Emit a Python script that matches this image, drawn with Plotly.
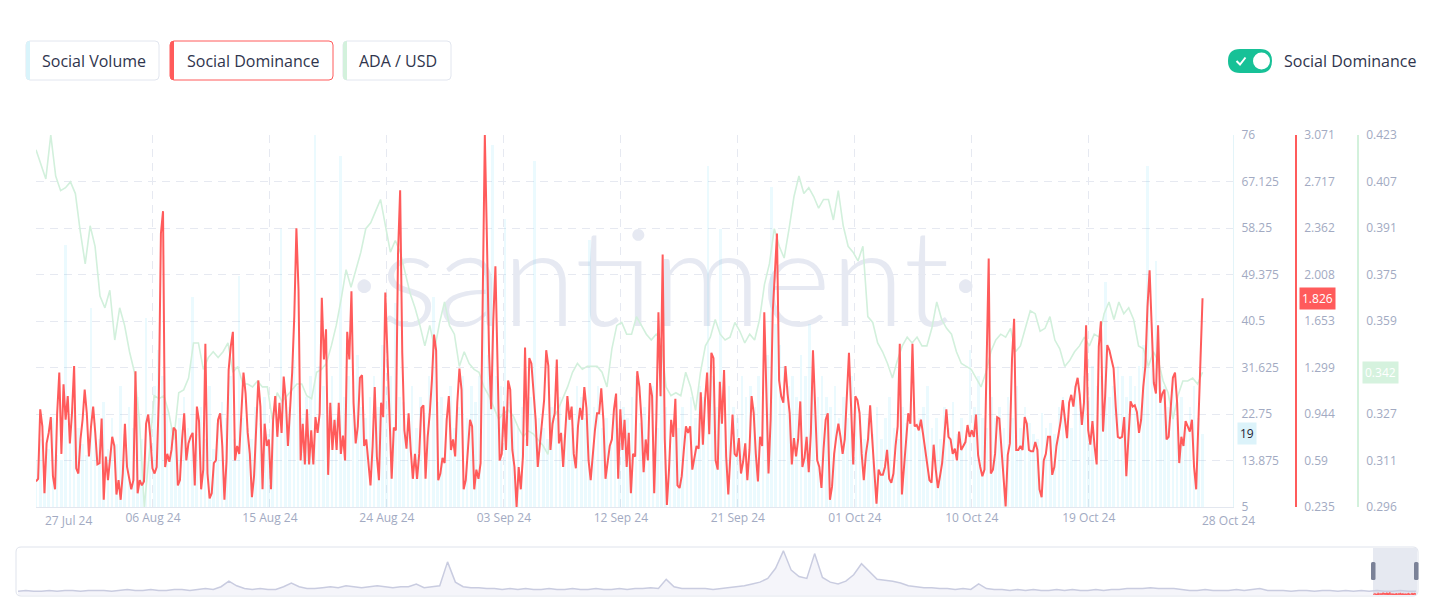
import numpy as np
import pandas as pd
import plotly.graph_objects as go

# the page body has an 8px margin, so the figure is drawn 8px in from the corner
OFF = 8
W, H = 1432, 607
FW, FH = W - OFF, H - OFF

# ---------------- data ----------------
# Social Dominance (%), ~4h points, 27 Jul 24 -> 28 Oct 24
dom_part1 = [0.43, 0.45, 0.98, 0.85, 0.34, 0.72, 0.80, 0.92, 0.47, 0.37,
             0.95, 1.26, 0.64, 1.17, 0.90, 1.08, 0.72, 0.95, 1.31, 0.53,
             0.49, 0.75, 0.90, 1.13, 0.95, 0.62, 0.85, 1.00, 0.80, 0.56, 0.57, 0.91,
             0.29, 0.62, 0.44, 0.64, 0.77, 0.70, 0.33, 0.44, 0.29, 0.49,
             0.87, 0.54, 0.44, 0.37, 0.44, 1.27, 0.34, 0.44, 0.40, 0.43,
             0.87, 0.94, 0.77, 0.53, 0.49, 0.54, 1.05, 2.32, 2.49, 0.54,
             0.64, 0.58, 0.67, 0.84, 0.82, 0.40, 0.44, 0.75, 0.95,
             0.59, 0.72, 0.77, 0.80, 0.40, 1.00, 0.89, 0.37, 0.52,
             1.48, 0.49, 0.30, 0.34, 0.57, 0.59, 0.90, 0.95, 0.70, 0.29,
             0.59, 1.28, 1.46, 1.57, 0.59, 0.70, 0.64, 0.95, 1.26, 1.10,
             0.80, 0.64, 0.31, 0.47, 0.87, 1.20, 1.00, 0.37, 0.87, 0.70,
             0.75, 0.37, 0.90, 1.08, 0.77, 1.03, 0.80, 1.23, 1.05, 0.70,
             0.98, 1.26, 1.69, 2.36, 1.89, 0.59, 0.87, 0.56, 0.98, 0.56,
             0.82, 0.56, 0.92, 0.80]
dom_part2 = [0.95, 1.83, 1.36, 1.59, 0.48, 1.03, 0.67, 0.90, 0.67, 1.03,
             0.64, 0.78, 0.59, 1.57, 1.36, 1.88, 1.03, 0.72, 0.85, 1.22, 1.24,
             0.70, 0.75, 0.54, 0.40, 0.70, 1.15, 0.62, 0.44, 1.03, 0.92, 1.87,
             1.41, 1.03, 0.45, 0.84, 0.82, 2.17, 2.65, 1.41, 0.82, 0.68,
             0.95, 0.67, 0.45, 0.64, 0.45, 0.64, 0.99, 1.01, 0.45, 0.77,
             0.95, 1.20, 1.55, 1.43, 0.44, 0.49, 0.61, 0.57, 0.90, 1.08, 0.67,
             0.75, 0.62, 1.03, 1.29, 1.13, 0.37, 0.44, 0.64, 0.90, 0.85,
             0.37, 0.52, 0.45, 0.57, 1.66, 3.071, 2.27, 1.41, 0.98, 1.66,
             2.07, 1.20, 0.59, 0.64, 1.00, 0.67, 1.20, 1.13, 0.67, 0.54,
             0.235, 0.54, 0.37, 0.62, 1.45, 0.70, 1.37, 1.33, 1.08, 0.90,
             0.54, 0.72, 0.90, 1.05, 1.43, 1.31, 0.67, 0.87,
             0.95, 1.36, 0.72, 0.80, 0.54, 0.81, 1.08, 0.90, 1.00,
             0.64, 0.53, 0.85, 0.99, 0.90, 1.15, 0.99, 0.59, 0.44, 0.64,
             0.82, 0.95]
dom_part3 = [0.95, 1.14, 0.90, 0.45, 0.59, 0.70, 0.75, 0.98, 1.10, 0.45, 0.98,
             0.67, 0.90, 0.54, 0.80, 0.34, 0.64, 0.62, 1.27, 1.15, 0.90, 0.50,
             0.75, 0.59, 1.18, 1.08, 0.34, 0.90, 1.72, 1.08, 2.16, 0.75,
             0.25, 0.52, 0.90, 0.77, 1.06, 0.40, 0.38, 0.47, 0.67, 0.85,
             0.80, 0.85, 0.52, 0.60, 0.70, 0.68, 1.11, 0.71, 1.05, 1.26, 0.79,
             1.41, 1.37, 0.59, 0.52, 1.19, 0.87, 1.28, 0.62, 0.33, 0.67,
             0.94, 0.64, 0.62, 0.76, 0.49, 0.58, 0.72, 0.44, 0.67, 1.08, 0.95,
             0.64, 0.43, 0.77, 0.70, 1.72, 1.03, 0.49, 0.90, 1.72, 2.02,
             2.32, 1.20, 1.08, 1.03, 1.31, 1.10, 0.95, 0.56, 0.76, 0.62,
             0.75, 1.04, 0.54, 0.61, 0.77, 0.50, 0.80, 1.43, 1.05, 0.59,
             0.54, 0.38, 0.68, 0.90, 0.95, 0.29, 0.39, 0.64, 0.77,
             0.87, 0.77, 0.64, 0.75, 1.05, 1.41, 1.00, 0.56, 1.08,
             1.05, 0.95, 0.64, 0.44, 0.64, 0.75, 1.01, 0.75, 0.52,
             0.26]
dom_part4 = [0.52, 0.48, 0.48, 0.54, 0.67, 0.45, 0.42, 0.49, 0.70, 0.85,
             1.48, 0.33, 0.54, 0.75, 0.95, 0.87, 1.48, 0.85, 0.86, 0.82,
             0.90, 0.79, 0.67, 0.57, 0.44, 0.42, 0.71, 0.52, 0.38, 0.47,
             0.57, 0.76, 0.98, 0.77, 0.75, 0.64, 0.68, 0.59, 0.81, 0.67,
             0.70, 0.73, 0.86, 0.77, 0.82, 0.77, 0.94, 0.63, 0.54, 0.47,
             0.52, 1.46, 2.13, 0.49, 0.52, 0.64, 0.92, 0.91, 0.68, 0.42,
             0.24, 0.63, 0.72, 1.36, 1.67, 0.67, 0.67, 0.70, 0.67, 0.92,
             0.87, 0.67, 0.66, 0.66, 0.73, 0.67, 0.37, 0.31, 0.59, 0.64,
             0.77, 0.77, 0.48, 0.54, 0.70, 0.79, 0.89, 1.05, 0.89, 0.76,
             1.03, 1.09, 1.00, 1.15, 1.22, 1.09, 0.86, 1.03, 1.62, 0.82,
             0.71, 0.89, 0.70, 0.56, 1.46, 1.65, 0.81, 1.08, 1.47, 1.43,
             1.36, 1.29, 1.00, 0.77, 0.76, 0.77, 0.92, 0.47, 0.76, 1.04,
             1.00, 1.01, 0.96, 0.80, 0.90, 1.15, 1.31, 1.76, 2.04, 1.61,
             1.18, 1.10, 1.62, 1.03, 1.10, 1.13, 0.75, 0.77, 1.00, 1.22,
             1.26, 1.03, 0.57, 0.77, 0.70, 0.89, 0.85, 0.81, 0.90, 0.54,
             0.37, 0.85, 1.41, 1.826]
social_dominance = dom_part1 + dom_part2 + dom_part3 + dom_part4

# ADA / USD price
price_part1 = [0.418, 0.413, 0.408, 0.423, 0.409, 0.404, 0.405, 0.407, 0.403, 0.390,
               0.379, 0.392, 0.385, 0.368, 0.364, 0.370, 0.353, 0.364, 0.358, 0.349,
               0.342, 0.326, 0.296]
price_part2 = [0.314, 0.334, 0.333, 0.334, 0.328, 0.319, 0.335, 0.336, 0.340, 0.352,
               0.352, 0.343, 0.347, 0.349, 0.347, 0.349, 0.352, 0.342, 0.344, 0.338,
               0.338, 0.337, 0.339, 0.337, 0.337, 0.326, 0.335, 0.332, 0.334, 0.336,
               0.338, 0.338, 0.334, 0.333]
price_part3 = [0.342, 0.343, 0.345, 0.351, 0.358, 0.367, 0.377, 0.371, 0.377, 0.383, 0.391, 0.393,
               0.397, 0.401, 0.392, 0.383, 0.387, 0.383, 0.376, 0.369, 0.364, 0.358,
               0.351, 0.358, 0.350, 0.359, 0.366, 0.358, 0.355, 0.344, 0.349, 0.345,
               0.343, 0.342, 0.337, 0.334, 0.330, 0.326, 0.328, 0.329, 0.327, 0.323,
               0.320, 0.322, 0.321, 0.319, 0.317, 0.314, 0.326, 0.329, 0.333, 0.337,
               0.342, 0.345, 0.343, 0.344, 0.344, 0.344]
price_part4 = [0.342, 0.337, 0.350, 0.358, 0.359, 0.355, 0.355, 0.361, 0.358, 0.355,
               0.353, 0.355, 0.353, 0.337, 0.334, 0.335, 0.334, 0.342, 0.337, 0.329,
               0.342, 0.351, 0.354, 0.360, 0.355, 0.353, 0.354, 0.359, 0.356, 0.352,
               0.355, 0.353, 0.360, 0.372, 0.379, 0.391, 0.385, 0.381, 0.391, 0.402,
               0.409, 0.403, 0.405, 0.402, 0.398, 0.401, 0.401, 0.394, 0.404, 0.392,
               0.385, 0.383, 0.380, 0.385, 0.361, 0.359, 0.352, 0.349, 0.345]
price_part5 = [0.340, 0.346, 0.351, 0.354, 0.352, 0.354, 0.351, 0.351, 0.357, 0.366,
               0.360, 0.357, 0.355, 0.349, 0.345, 0.344, 0.343, 0.340, 0.337, 0.342,
               0.349, 0.353, 0.355, 0.354, 0.357, 0.349, 0.351, 0.357, 0.363, 0.362,
               0.356, 0.357, 0.361, 0.353, 0.350, 0.344, 0.346, 0.349, 0.351, 0.354,
               0.351, 0.355, 0.354, 0.362, 0.366, 0.360, 0.366, 0.362, 0.364, 0.360,
               0.351, 0.350, 0.344, 0.349, 0.346, 0.339, 0.335, 0.326, 0.334, 0.339,
               0.339, 0.340, 0.338, 0.342]
ada_usd = price_part1 + price_part2 + price_part3 + price_part4 + price_part5

# Social Volume, ~8h bars
social_volume = [14, 18, 12, 16, 22, 15, 14, 55, 20, 24, 20, 17, 15, 43, 21,
                 18, 25, 16, 22, 17, 28, 19, 24, 20, 26, 18, 41, 22, 28, 35,
                 30, 24, 20, 18, 22, 26, 20, 45, 19, 24, 18, 28, 16, 21, 25,
                 22, 30, 18, 49, 22, 20, 18, 24, 21, 26, 19, 23, 21, 58, 26,
                 24, 33, 28, 22, 26, 30, 76, 32, 28, 24, 30, 22, 72, 26, 30,
                 28, 34, 24, 22, 26, 30, 24, 36, 28, 30, 44, 26, 25, 22, 28,
                 20, 26, 23, 30, 45, 25, 26, 22, 28, 20, 24, 30, 22, 28, 25,
                 30, 52, 34, 74, 30, 28, 60, 25, 22, 20, 24, 18, 26, 71, 22,
                 20, 18, 24, 22, 26, 19, 24, 20, 28, 26, 22, 56, 24, 28, 20,
                 22, 18, 26, 20, 24, 22, 26, 30, 21, 24, 22, 28, 20, 36, 24,
                 18, 22, 20, 24, 20, 26, 22, 28, 26, 70, 30, 24, 58, 26, 28,
                 24, 22, 30, 26, 28, 24, 30, 26, 34, 66, 40, 36, 32, 28, 30,
                 26, 34, 30, 40, 28, 26, 30, 26, 24, 28, 22, 26, 22, 30, 24,
                 20, 18, 22, 19, 24, 18, 22, 26, 20, 18, 24, 21, 26, 20, 22,
                 24, 28, 20, 22, 18, 24, 20, 25, 19, 22, 18, 35, 24, 30, 22,
                 20, 26, 22, 24, 20, 26, 22, 28, 20, 24, 21, 19, 18, 23, 20,
                 21, 19, 24, 26, 22, 20, 28, 24, 30, 26, 32, 28, 30, 48, 26,
                 28, 32, 30, 26, 30, 28, 32, 36, 70, 40, 52, 30, 28, 24, 30,
                 22, 26, 20, 24, 28, 22, 19]

# Navigator (long history of social volume, relative units)
nav_history = [4, 5, 4, 4, 5, 4, 5, 5, 4, 5, 5, 5, 4, 5, 6, 5, 5, 6, 5, 5,
               6, 6, 5, 6, 7, 6, 9, 15, 10, 7, 6, 7, 6, 6, 9, 13, 9, 7, 7, 8,
               9, 8, 10, 9, 8, 9, 10, 9, 8, 9, 9, 12, 8, 9, 10, 36, 14, 9, 8, 8,
               7, 7, 6, 7, 6, 7, 6, 6, 7, 6, 6, 7, 6, 6, 7, 6, 6, 7, 6, 7,
               7, 8, 7, 17, 9, 7, 7, 7, 7, 6, 7, 8, 9, 10, 12, 14, 18, 29, 48, 27,
               20, 18, 45, 19, 14, 12, 15, 22, 34, 26, 17, 16, 15, 13, 10, 9, 8, 8, 7, 7,
               6, 7, 6, 12, 7, 6, 6, 5, 6, 5, 6, 5, 5, 6, 5, 6, 5, 5, 6, 5,
               6, 6, 7, 7, 7, 8, 7, 7, 7, 6, 5, 5, 6, 5, 5, 5, 6, 5, 6, 7,
               5, 5, 5, 4, 5, 5, 4, 5, 5, 4, 5, 4, 5, 4, 5, 4, 4, 5, 4, 4]

legend_labels = ["Social Volume", "Social Dominance", "ADA / USD"]
x_tick_labels = ["06 Aug 24", "15 Aug 24", "24 Aug 24", "03 Sep 24", "12 Sep 24",
                 "21 Sep 24", "01 Oct 24", "10 Oct 24", "19 Oct 24"]
x_edge_labels = ["27 Jul 24", "28 Oct 24"]
vol_tick_labels = ["5", "13.875", "22.75", "31.625", "40.5", "49.375", "58.25", "67.125", "76"]
dom_tick_labels = ["0.235", "0.59", "0.944", "1.299", "1.653", "2.008", "2.362", "2.717", "3.071"]
price_tick_labels = ["0.296", "0.311", "0.327", "0.343", "0.359", "0.375", "0.391", "0.407", "0.423"]
vol_range = [5, 76]
dom_range = [0.235, 3.071]
price_range = [0.296, 0.423]

# ---------------- time axes ----------------
t_start = pd.Timestamp("2024-07-27 18:00")
t_end = pd.Timestamp("2024-10-28 00:00")
view_end = pd.Timestamp("2024-10-30 09:50")
tick_step = pd.Timedelta(hours=222)
x_ticks = [t_start + tick_step * k for k in range(10)]
x_tick_text = [""] + x_tick_labels

t_dom = pd.date_range(t_start, t_end, periods=len(social_dominance))
t_price = pd.date_range(t_start, t_end, periods=len(ada_usd))
t_vol = pd.date_range(t_start, t_end, periods=len(social_volume))
bar_w = (t_end - t_start).total_seconds() * 1000 / (len(social_volume) - 1) * 0.62
nav_start = t_end - pd.Timedelta(days=3024)
t_nav = pd.date_range(nav_start, t_end, periods=len(nav_history))

FONT = "Open Sans"
TICK = "#a2aac2"
GRID = "#e6e9f1"
RED = "#ff5b5b"
GREEN_LINE = "#d2f0dc"
TEXT = "#2f354d"


def px(x):
    return (x - OFF) / FW


def py(y):
    return 1 - (y - OFF) / FH


def rr(x0, y0, x1, y1, r):
    return (f"M {px(x0 + r)},{py(y0)} L {px(x1 - r)},{py(y0)} Q {px(x1)},{py(y0)} {px(x1)},{py(y0 + r)} "
            f"L {px(x1)},{py(y1 - r)} Q {px(x1)},{py(y1)} {px(x1 - r)},{py(y1)} L {px(x0 + r)},{py(y1)} "
            f"Q {px(x0)},{py(y1)} {px(x0)},{py(y1 - r)} L {px(x0)},{py(y0 + r)} Q {px(x0)},{py(y0)} {px(x0 + r)},{py(y0)} Z")


def left_stripe(x0, y0, y1, w):
    return (f"M {px(x0 + w)},{py(y0)} L {px(x0 + w)},{py(y1)} Q {px(x0)},{py(y1)} {px(x0)},{py(y1 - w)} "
            f"L {px(x0)},{py(y0 + w)} Q {px(x0)},{py(y0)} {px(x0 + w)},{py(y0)} Z")


fig = go.Figure()

fig.add_trace(go.Bar(x=t_vol, y=social_volume, width=bar_w,
                     marker=dict(color="rgba(104,219,244,0.13)", line=dict(width=0)),
                     xaxis="x", yaxis="y", hoverinfo="skip"))
fig.add_trace(go.Scatter(x=t_price, y=ada_usd, mode="lines",
                         line=dict(color=GREEN_LINE, width=1.6),
                         xaxis="x", yaxis="y2", hoverinfo="skip"))
fig.add_trace(go.Scatter(x=t_dom, y=social_dominance, mode="lines",
                         line=dict(color=RED, width=2),
                         xaxis="x", yaxis="y3", hoverinfo="skip"))

# navigator
fig.add_trace(go.Scatter(x=t_nav, y=nav_history, mode="lines",
                         line=dict(color="#c9cce0", width=1.5),
                         fill="tozeroy", fillcolor="rgba(214,217,234,0.25)",
                         xaxis="x2", yaxis="y4", hoverinfo="skip"))
fig.add_trace(go.Scatter(x=t_dom, y=social_dominance, mode="lines",
                         line=dict(color=RED, width=1.2),
                         xaxis="x2", yaxis="y4", hoverinfo="skip"))

shapes = []
# watermark
shapes.append(dict(type="rect", xref="paper", yref="paper",
                   x0=px(330), x1=px(1000), y0=py(362), y1=py(182),
                   line=dict(width=0), fillcolor="rgba(0,0,0,0)", layer="below",
                   label=dict(text="·santiment·", textposition="middle center",
                              font=dict(family="Lato", size=134, color="#e6e9f2", weight=300))))
# legend buttons
legend_boxes = [(26, 159, "#d9f4fb", "#e2e6ef"), (170, 333, RED, RED), (343, 451, "#d3f1dc", "#e2e6ef")]
for (x0, x1, stripe, border) in legend_boxes:
    shapes.append(dict(type="path", xref="paper", yref="paper", path=rr(x0, 41, x1, 80, 4),
                       line=dict(color=border, width=1), fillcolor="#ffffff"))
    shapes.append(dict(type="path", xref="paper", yref="paper", path=left_stripe(x0, 41, 80, 4),
                       line=dict(width=0), fillcolor=stripe))
# toggle switch
shapes.append(dict(type="path", xref="paper", yref="paper", path=rr(1228, 49, 1272, 73, 12),
                   line=dict(width=0), fillcolor="#17c197"))
shapes.append(dict(type="circle", xref="paper", yref="paper",
                   x0=px(1253), x1=px(1270), y0=py(69.5), y1=py(52.5),
                   line=dict(width=0), fillcolor="#ffffff"))
shapes.append(dict(type="path", xref="paper", yref="paper",
                   path=f"M {px(1236.5)},{py(61)} L {px(1240)},{py(64.5)} L {px(1245.5)},{py(57.5)}",
                   line=dict(color="#ffffff", width=2)))
# navigator frame, selection and handles
shapes.append(dict(type="path", xref="paper", yref="paper", path=rr(16, 547, 1418, 596, 5),
                   line=dict(color="#dfe3ec", width=1), fillcolor="#ffffff", layer="below"))
shapes.append(dict(type="rect", xref="paper", yref="paper",
                   x0=px(1373), x1=px(1417), y0=py(595), y1=py(548),
                   line=dict(width=0), fillcolor="#e6e9f1", layer="below"))
for hx in (1371, 1414):
    shapes.append(dict(type="path", xref="paper", yref="paper", path=rr(hx, 562, hx + 4.5, 580, 1.5),
                       line=dict(width=0), fillcolor="#7b8298"))

annotations = []
for label, (x0, x1, _, _) in zip(legend_labels, legend_boxes):
    annotations.append(dict(x=px((x0 + x1) / 2 + 1), y=py(61), xref="paper", yref="paper",
                            text=label, showarrow=False, xanchor="center", yanchor="middle",
                            font=dict(family=FONT, size=16, color=TEXT)))
annotations.append(dict(x=px(1282), y=py(61), xref="paper", yref="paper", text="Social Dominance",
                        showarrow=False, xanchor="left", yanchor="middle",
                        font=dict(family=FONT, size=16, color=TEXT)))
for label, cx in zip(x_edge_labels, (68, 1228)):
    annotations.append(dict(x=px(cx), y=py(520), xref="paper", yref="paper", text=label,
                            showarrow=False, xanchor="center", yanchor="middle",
                            font=dict(family=FONT, size=12, color=TICK)))
# current value badges
annotations.append(dict(x=px(1299), y=social_dominance[-1], xref="paper", yref="y3",
                        text=f"{social_dominance[-1]:.3f}", showarrow=False,
                        xanchor="left", yanchor="middle", bgcolor=RED, borderpad=2,
                        font=dict(family=FONT, size=12, color="#ffffff")))
annotations.append(dict(x=px(1237), y=social_volume[-1], xref="paper", yref="y",
                        text=f"{social_volume[-1]}", showarrow=False,
                        xanchor="left", yanchor="middle", bgcolor="#dcf3fa", borderpad=2,
                        font=dict(family=FONT, size=12, color="#1c2133")))
annotations.append(dict(x=px(1362), y=ada_usd[-1], xref="paper", yref="y2",
                        text=f"{ada_usd[-1]:.3f}", showarrow=False,
                        xanchor="left", yanchor="middle", bgcolor="#d5f2de", borderpad=2,
                        font=dict(family=FONT, size=12, color="#ffffff")))

tickfont = dict(family=FONT, size=12, color=TICK)
fig.update_layout(
    width=FW, height=FH,
    margin=dict(l=0, r=0, t=0, b=0, autoexpand=False),
    paper_bgcolor="#ffffff", plot_bgcolor="rgba(0,0,0,0)",
    showlegend=False, bargap=0,
    xaxis=dict(domain=[px(36), px(1233)], range=[t_start, view_end], type="date",
               tickvals=x_ticks, ticktext=x_tick_text, showgrid=True, gridcolor=GRID,
               griddash="8px,6px", gridwidth=1, showline=True, linecolor="#e3e7ef",
               ticks="", tickfont=tickfont, zeroline=False, anchor="y", fixedrange=True),
    yaxis=dict(domain=[py(507), py(135)], range=vol_range, side="right",
               tickvals=np.linspace(vol_range[0], vol_range[1], 9), ticktext=vol_tick_labels,
               showgrid=True, gridcolor=GRID, griddash="8px,6px", gridwidth=1,
               showline=True, linecolor="#e3f4f9", zeroline=False, ticks="",
               ticklabelstandoff=5, tickfont=tickfont, anchor="x", fixedrange=True),
    yaxis2=dict(overlaying="y", anchor="free", position=px(1358), side="right",
                range=price_range, tickvals=np.linspace(price_range[0], price_range[1], 9),
                ticktext=price_tick_labels, showgrid=False, showline=True,
                linecolor="#d3f1dc", linewidth=1.5, zeroline=False, ticks="",
                ticklabelstandoff=5, tickfont=tickfont, fixedrange=True),
    yaxis3=dict(overlaying="y", anchor="free", position=px(1296), side="right",
                range=dom_range, tickvals=np.linspace(dom_range[0], dom_range[1], 9),
                ticktext=dom_tick_labels, showgrid=False, showline=True,
                linecolor=RED, linewidth=1.5, zeroline=False, ticks="",
                ticklabelstandoff=5, tickfont=tickfont, fixedrange=True),
    xaxis2=dict(domain=[px(18), px(1416)], range=[nav_start, t_end], type="date",
                visible=False, anchor="y4", fixedrange=True),
    yaxis4=dict(domain=[py(595), py(549)], range=[0, 50], visible=False,
                anchor="x2", fixedrange=True),
    shapes=shapes,
    annotations=annotations,
)

fig.write_html("out.html", config={"displayModeBar": False})
